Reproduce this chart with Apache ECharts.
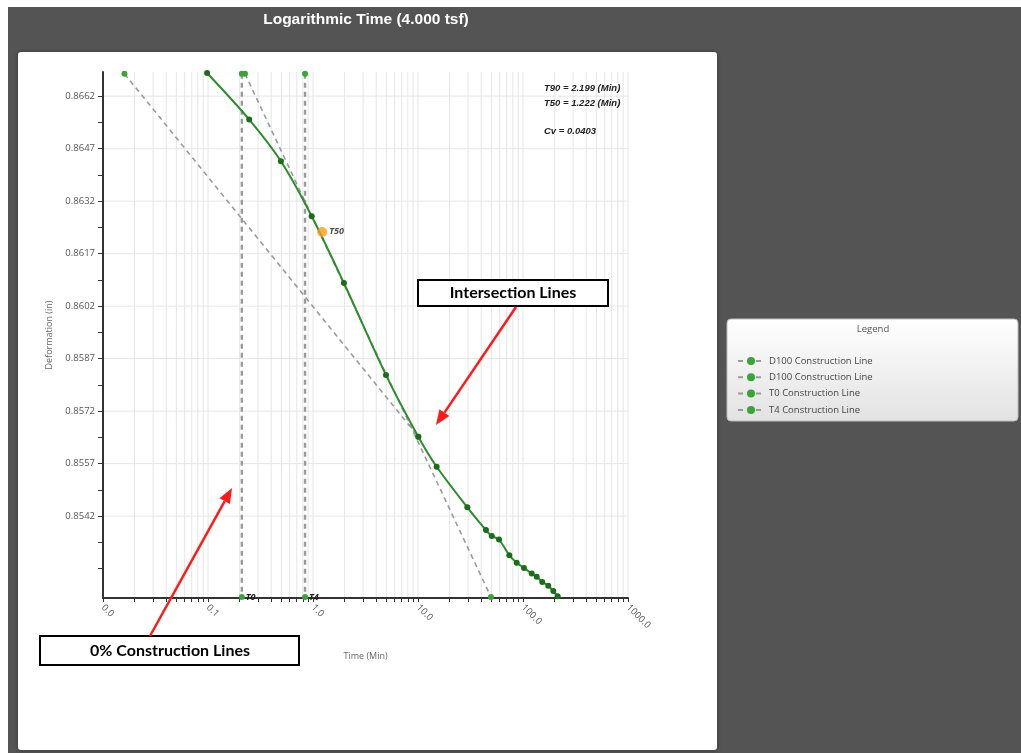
<!DOCTYPE html>
<html style="height: 100%">
<head>
    <meta charset="utf-8">
    <script src="https://cdn.jsdelivr.net/npm/echarts@6/dist/echarts.min.js"></script>
</head>
<body style="height: 100%; margin: 0; background-color: #ffffff">
    <div id="container" style="width: 1021px; height: 753px"></div>
    <script type="text/javascript">
        // settlement readings (time in minutes, deformation in inches)
        var timeMin = [0.098, 0.247, 0.495, 0.972, 1.97, 4.96, 10.07, 15.06, 29.5, 44.4, 50.4, 59.1, 74.1, 87.1, 102.2, 121, 135, 152.6, 174, 194.4, 213.8];
        var deformation = [0.86686, 0.86553, 0.86434, 0.86277, 0.86086, 0.85823, 0.85647, 0.85561, 0.85445, 0.8538, 0.85363, 0.85353, 0.85308, 0.85287, 0.85272, 0.85256, 0.85247, 0.85232, 0.85221, 0.85206, 0.85191];

        // construction lines: [t, d] end points
        var d100LineA = [[0.016, 0.86684], [10.07, 0.85647]];
        var d100LineB = [[0.225, 0.86684], [49.5, 0.85189]];
        var t0Line = [[0.21, 0.86684], [0.21, 0.85189]];
        var t4Line = [[0.84, 0.86684], [0.84, 0.85189]];
        var t50Point = [1.222, 0.86232];

        var xLabelValues = [0.01, 0.1, 1, 10, 100, 1000];
        var xMinorSteps = [2, 3, 4, 5, 6, 7, 8, 9];
        var yLabelValues = [0.8542, 0.8557, 0.8572, 0.8587, 0.8602, 0.8617, 0.8632, 0.8647, 0.8662];
        var yTickValues = [0.8527, 0.85345, 0.8542, 0.85495, 0.8557, 0.85645, 0.8572, 0.85795, 0.8587, 0.85945,
            0.8602, 0.86095, 0.8617, 0.86245, 0.8632, 0.86395, 0.8647, 0.86545, 0.8662];

        var xTickValues = [];
        xLabelValues.forEach(function (d) {
            xTickValues.push(d);
            if (d < 1000) {
                xMinorSteps.forEach(function (m) { xTickValues.push(+(d * m).toPrecision(3)); });
            }
        });

        var yMin = 0.85186, yMax = 0.86689;
        var green = '#3aa33a';
        var dashGray = '#9a9a9a';

        function arrow(x1, y1, x2, y2) {
            var a = Math.atan2(y2 - y1, x2 - x1);
            var L = 15, W = 6;
            var bx = x2 - L * Math.cos(a), by = y2 - L * Math.sin(a);
            return [{
                type: 'line', z: 100,
                shape: { x1: x1, y1: y1, x2: bx, y2: by },
                style: { stroke: '#ff1a1a', lineWidth: 2.5 }
            }, {
                type: 'polygon', z: 100,
                shape: { points: [[x2, y2], [bx + W * Math.sin(a), by - W * Math.cos(a)], [bx - W * Math.sin(a), by + W * Math.cos(a)]] },
                style: { fill: '#ff1a1a' }
            }];
        }

        function constructionSeries(name, pts, labelText) {
            var data = pts.map(function (p) { return p.slice(); });
            if (labelText) {
                data[1] = {
                    value: pts[1],
                    label: {
                        show: true, position: 'right', distance: 1, formatter: labelText,
                        fontSize: 9, fontWeight: 'bold', fontStyle: 'italic', color: '#222'
                    }
                };
            }
            return {
                name: name,
                type: 'line',
                data: data,
                symbol: 'circle',
                symbolSize: 6,
                showSymbol: true,
                z: 3,
                itemStyle: { color: green },
                lineStyle: { color: dashGray, width: labelText ? 2.4 : 1.6, type: [5, 4] }
            };
        }

        // light grid lines drawn through the axis scales
        function gridSeries(values, vertical) {
            return {
                type: 'custom',
                silent: true,
                z: 0.5,
                data: values.map(function (v) { return vertical ? [v, yMin] : [0.01, v]; }),
                renderItem: function (params, api) {
                    var cs = params.coordSys;
                    var p = api.coord([api.value(0), api.value(1)]);
                    var shape = vertical
                        ? { x1: p[0], y1: cs.y, x2: p[0], y2: cs.y + cs.height }
                        : { x1: cs.x, y1: p[1], x2: cs.x + cs.width, y2: p[1] };
                    return { type: 'line', shape: shape, style: { stroke: '#e6e6e6', lineWidth: 1 } };
                }
            };
        }

        var labelFont = { fontFamily: 'Open Sans', fontSize: 9.5, color: '#555' };

        var dom = document.getElementById('container');
        var myChart = echarts.init(dom);

        var option = {
            backgroundColor: '#ffffff',
            animation: false,
            textStyle: { fontFamily: 'Open Sans' },
            grid: { left: 103, top: 72, width: 525, height: 526, containLabel: false },
            xAxis: {
                type: 'log',
                logBase: 10,
                min: 0.01,
                max: 1000,
                z: 1,
                name: 'Time (Min)',
                nameLocation: 'middle',
                nameGap: 54,
                nameTextStyle: { fontFamily: 'Open Sans', fontSize: 9, color: '#666' },
                axisLine: { lineStyle: { color: '#333', width: 2 } },
                axisTick: { show: true, length: 4, customValues: xTickValues, lineStyle: { color: '#333', width: 1 } },
                axisLabel: Object.assign({
                    customValues: xLabelValues,
                    rotate: -45,
                    margin: 8,
                    formatter: function (v) { return (+v).toFixed(1); }
                }, labelFont),
                splitLine: { show: false },
                minorTick: { show: false },
                minorSplitLine: { show: false }
            },
            yAxis: {
                type: 'value',
                min: yMin,
                max: yMax,
                z: 1,
                name: 'Deformation (in)',
                nameLocation: 'middle',
                nameGap: 49,
                nameRotate: 90,
                nameTextStyle: { fontFamily: 'Open Sans', fontSize: 9, color: '#666' },
                axisLine: { show: true, lineStyle: { color: '#333', width: 2 } },
                axisTick: { show: true, length: 5, customValues: yTickValues, lineStyle: { color: '#333', width: 1 } },
                axisLabel: Object.assign({
                    customValues: yLabelValues,
                    margin: 8,
                    formatter: function (v) { return (+v).toFixed(4); }
                }, labelFont),
                splitLine: { show: false }
            },
            legend: {
                data: ['D100 Construction Line', 'D100 Construction Line ', 'T0 Construction Line', 'T4 Construction Line'],
                orient: 'vertical',
                left: 732,
                top: 351,
                itemWidth: 26,
                itemHeight: 10,
                itemGap: 6.3,
                selectedMode: false,
                textStyle: { fontFamily: 'Open Sans', fontSize: 9.5, color: '#444' }
            },
            graphic: [
                { type: 'rect', z: -20, shape: { x: 8, y: 7, width: 1013, height: 746 }, style: { fill: '#545454' } },
                {
                    type: 'rect', z: -10, shape: { x: 18, y: 52, width: 699, height: 698, r: 3 },
                    style: { fill: '#ffffff', shadowBlur: 4, shadowColor: 'rgba(0,0,0,0.35)' }
                },
                {
                    type: 'text', z: 100, x: 366, y: 20,
                    style: {
                        text: 'Logarithmic Time (4.000 tsf)', fill: '#ffffff', align: 'center', verticalAlign: 'middle',
                        font: 'bold 15.5px "Liberation Sans", Arial, sans-serif'
                    }
                },
                { type: 'text', z: 100, x: 544, y: 88, style: { text: 'T90 = 2.199 (Min)', fill: '#222', verticalAlign: 'middle', font: 'italic bold 9.5px "Liberation Sans", Arial, sans-serif' } },
                { type: 'text', z: 100, x: 544, y: 103, style: { text: 'T50 = 1.222 (Min)', fill: '#222', verticalAlign: 'middle', font: 'italic bold 9.5px "Liberation Sans", Arial, sans-serif' } },
                { type: 'text', z: 100, x: 544, y: 131, style: { text: 'Cv = 0.0403', fill: '#222', verticalAlign: 'middle', font: 'italic bold 9.5px "Liberation Sans", Arial, sans-serif' } },
                {
                    type: 'rect', z: -5, shape: { x: 727, y: 319, width: 291, height: 102, r: 4 },
                    style: {
                        fill: { type: 'linear', x: 0, y: 0, x2: 0, y2: 1, colorStops: [{ offset: 0, color: '#ffffff' }, { offset: 1, color: '#e2e2e2' }] },
                        stroke: '#bdbdbd', lineWidth: 1
                    }
                },
                { type: 'text', z: 100, x: 873, y: 329, style: { text: 'Legend', fill: '#555', align: 'center', verticalAlign: 'middle', font: '9.5px "Open Sans", sans-serif' } },
                {
                    type: 'rect', z: 100, shape: { x: 418, y: 280, width: 190, height: 26 },
                    style: { fill: '#ffffff', stroke: '#000', lineWidth: 2 }
                },
                { type: 'text', z: 101, x: 513, y: 293, style: { text: 'Intersection Lines', fill: '#000', align: 'center', verticalAlign: 'middle', font: 'bold 16px Lato, sans-serif' } },
                {
                    type: 'rect', z: 100, shape: { x: 40, y: 636, width: 259, height: 29 },
                    style: { fill: '#ffffff', stroke: '#000', lineWidth: 2 }
                },
                { type: 'text', z: 101, x: 170, y: 651, style: { text: '0% Construction Lines', fill: '#000', align: 'center', verticalAlign: 'middle', font: 'bold 16px Lato, sans-serif' } }
            ].concat(arrow(516, 307, 436, 425)).concat(arrow(150, 636, 232, 488)),
            series: [
                gridSeries(xTickValues.filter(function (v) { return v > 0.01; }), true),
                gridSeries(yLabelValues, false),
                constructionSeries('D100 Construction Line', d100LineA),
                constructionSeries('D100 Construction Line ', d100LineB),
                constructionSeries('T0 Construction Line', t0Line, 'T0'),
                constructionSeries('T4 Construction Line', t4Line, 'T4'),
                {
                    name: 'Deformation',
                    type: 'line',
                    smooth: 0.3,
                    z: 4,
                    data: timeMin.map(function (t, i) { return [t, deformation[i]]; }),
                    symbol: 'circle',
                    symbolSize: 6,
                    showSymbol: true,
                    itemStyle: { color: '#1d6b1d' },
                    lineStyle: { color: '#2e8b2e', width: 2 }
                },
                {
                    name: 'T50',
                    type: 'scatter',
                    z: 5,
                    data: [t50Point],
                    symbolSize: 10,
                    itemStyle: { color: '#f5a01a' },
                    label: {
                        show: true, position: 'right', distance: 2, formatter: 'T50',
                        fontSize: 9, fontWeight: 'bold', fontStyle: 'italic', color: '#222'
                    }
                }
            ]
        };
        myChart.setOption(option);
    </script>
</body>
</html>
